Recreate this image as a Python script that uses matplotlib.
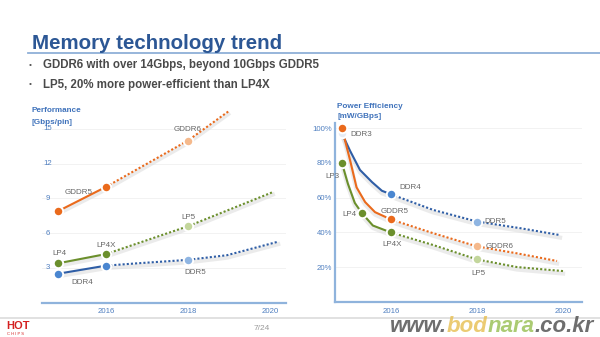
import matplotlib

matplotlib.use("Agg")
import matplotlib.pyplot as plt
from matplotlib.text import Annotation
from matplotlib.transforms import Affine2D, blended_transform_factory

plt.rcParams["font.family"] = ["Liberation Sans", "DejaVu Sans"]

W, H = 600, 337

# --- performance (Gbps/pin) ---------------------------------------------
perf_years = [2014.83, 2016.0]
perf_gddr = [7.9, 10.0]
perf_lp = [3.4, 4.2]
perf_ddr = [2.5, 3.2]

perf_next_year = 2018.0
perf_gddr6, perf_lp5, perf_ddr5 = 14.0, 6.6, 3.7

# projected trend (dotted)
perf_gddr_trend_x = [2016.0, 2018.0, 2018.98]
perf_gddr_trend_y = [10.0, 14.0, 16.5]
perf_lp_trend_x = [2016.0, 2017.0, 2018.0, 2020.07]
perf_lp_trend_y = [4.2, 5.4, 6.6, 9.55]
perf_ddr_trend_x = [2016.0, 2016.76, 2018.0, 2018.95, 2020.2]
perf_ddr_trend_y = [3.2, 3.4, 3.7, 4.1, 5.27]

perf_ticks = [3, 6, 9, 12, 15]

# --- power efficiency (mW/GBps, relative) --------------------------------
eff_ddr_x = [2014.86, 2015.05, 2015.28, 2015.56, 2015.79, 2016.0]
eff_ddr_y = [97, 87, 76, 69, 64, 62]
eff_gddr_x = [2014.86, 2015.05, 2015.2, 2015.4, 2015.63, 2016.0]
eff_gddr_y = [100, 81.6, 66, 57.5, 51.7, 47.5]
eff_lp_x = [2014.86, 2015.0, 2015.16, 2015.33, 2015.58, 2016.0]
eff_lp_y = [80, 68, 57, 51, 44, 40]

eff_ddr_trend_x = [2016.0, 2016.98, 2018.0, 2019.0, 2019.93]
eff_ddr_trend_y = [62, 53, 46.3, 42.5, 38.5]
eff_gddr_trend_x = [2016.0, 2016.98, 2018.0, 2018.93, 2019.86]
eff_gddr_trend_y = [47.5, 39.6, 32, 28, 23.6]
eff_lp_trend_x = [2016.0, 2016.98, 2018.0, 2018.93, 2020.0]
eff_lp_trend_y = [40, 32.8, 24.5, 20.1, 17.8]

eff_ticks = [20, 40, 60, 80, 100]
year_ticks = [2016, 2018, 2020]

ORANGE, GREEN, BLUE = "#ea6a1c", "#6b8f2c", "#2f5ea6"
ORANGE_L, GREEN_L, BLUE_L = "#f5b98c", "#c3d69c", "#8fb5e2"
DDR4_BLUE = "#4a86d0"
AXIS = "#8fb3dc"
TICK = "#4f7fc0"
LABEL = "#666666"


def px_axes(fig, x0, x1, y_bottom, y_top):
    """Axes placed by pixel edges (y measured from the top)."""
    return fig.add_axes([x0 / W, (H - y_bottom) / H, (x1 - x0) / W, (y_bottom - y_top) / H])


def dot(ax, x, y, color, size=6.8):
    ax.plot([x], [y], "o", color=color, markersize=size, markeredgecolor="white",
            markeredgewidth=1.4, zorder=6)


def tag(ax, text, xy, off, ha="center"):
    ax.annotate(text, xy=xy, xytext=off, textcoords="offset pixels", ha=ha, va="center",
                fontsize=5.8, color=LABEL, zorder=7)


def line(ax, xs, ys, color, dotted=False):
    # soft grey shadow under each line
    ax.plot(xs, ys, color="#d8d8d8", lw=3.0, alpha=0.5, zorder=2,
            transform=ax.transData + Affine2D().translate(0, -2.5))
    ax.plot(xs, ys, color=color, lw=1.5, ls=(0, (1, 1)) if dotted else "-",
            solid_capstyle="round", zorder=4)


def style_axes(ax):
    for s in ("top", "right"):
        ax.spines[s].set_visible(False)
    for s in ("left", "bottom"):
        ax.spines[s].set_color(AXIS)
        ax.spines[s].set_linewidth(1.6)
    ax.set_xticks(year_ticks)
    ax.set_xticklabels([str(y) for y in year_ticks])
    ax.tick_params(axis="x", length=0, pad=4, labelsize=5.6, labelcolor=TICK)
    ax.patch.set_alpha(0)


fig = plt.figure(figsize=(W / 100, H / 100), dpi=100)
fig.patch.set_facecolor("white")

# header
fig.text(32 / W, 1 - 49 / H, "Memory technology trend", fontsize=14.8, fontweight="bold",
         color="#2c5795", va="baseline", ha="left")
fig.add_artist(plt.Line2D([28 / W, 1.0], [1 - 53 / H, 1 - 53 / H], color="#8fb0d8", lw=1.3))
bullets = ["GDDR6 with over 14Gbps, beyond 10Gbps GDDR5",
           "LP5, 20% more power-efficient than LP4X"]
for i, b in enumerate(bullets):
    yy = 1 - (65 + 20 * i) / H
    fig.text(29 / W, yy, "•", fontsize=6, color="#555555", va="center")
    fig.text(43 / W, yy, b, fontsize=8.3, fontweight="bold", color="#4a4a4a", va="center")

# left: performance
ax1 = px_axes(fig, 42, 286, 302.7, 105.8)
ax1.set_xlim(2014.44, 2020.39)
ax1.set_ylim(0, 17)
style_axes(ax1)
ax1.spines["left"].set_visible(False)
ax1.set_yticks([])
tr = blended_transform_factory(ax1.transAxes, ax1.transData)
for t in perf_ticks:
    ax1.axhline(t, color="#f0f0f0", lw=0.6, zorder=0)
    ax1.text(0.022, t, str(t), transform=tr, fontsize=5.6, color=TICK, ha="center", va="center")
fig.text(32 / W, 1 - 111 / H, "Performance", fontsize=5.9, fontweight="bold", color="#3f72bb",
         va="center")
fig.text(32 / W, 1 - 122 / H, "[Gbps/pin]", fontsize=5.9, fontweight="bold", color="#3f72bb",
         va="center")

line(ax1, perf_gddr_trend_x, perf_gddr_trend_y, ORANGE, dotted=True)
line(ax1, perf_lp_trend_x, perf_lp_trend_y, GREEN, dotted=True)
line(ax1, perf_ddr_trend_x, perf_ddr_trend_y, BLUE, dotted=True)
line(ax1, perf_years, perf_gddr, ORANGE)
line(ax1, perf_years, perf_lp, GREEN)
line(ax1, perf_years, perf_ddr, BLUE)
for x, y in zip(perf_years, perf_gddr):
    dot(ax1, x, y, ORANGE)
for x, y in zip(perf_years, perf_lp):
    dot(ax1, x, y, GREEN)
for x, y in zip(perf_years, perf_ddr):
    dot(ax1, x, y, DDR4_BLUE)
dot(ax1, perf_next_year, perf_gddr6, ORANGE_L)
dot(ax1, perf_next_year, perf_lp5, GREEN_L)
dot(ax1, perf_next_year, perf_ddr5, BLUE_L)
tag(ax1, "GDDR6", (perf_next_year, perf_gddr6), (0, 11))
tag(ax1, "GDDR5", (perf_years[1], perf_gddr[1]), (-27, -6))
tag(ax1, "LP5", (perf_next_year, perf_lp5), (0, 9))
tag(ax1, "LP4", (perf_years[0], perf_lp[0]), (1, 10))
tag(ax1, "LP4X", (perf_years[1], perf_lp[1]), (0, 9))
tag(ax1, "DDR5", (perf_next_year, perf_ddr5), (7, -13))
tag(ax1, "DDR4", (perf_years[0], perf_ddr[0]), (24, -9))

# right: power efficiency
ax2 = px_axes(fig, 335, 582, 302, 123)
ax2.set_xlim(2014.70, 2020.44)
ax2.set_ylim(0, 103)
style_axes(ax2)
ax2.set_yticks(eff_ticks)
ax2.set_yticklabels([f"{t}%" for t in eff_ticks])
ax2.tick_params(axis="y", length=0, pad=2, labelsize=5.6, labelcolor=TICK)
for t in eff_ticks:
    ax2.axhline(t, color="#f0f0f0", lw=0.6, zorder=0)
fig.text(337 / W, 1 - 107 / H, "Power Efficiency", fontsize=5.9, fontweight="bold",
         color="#3f72bb", va="center")
fig.text(337 / W, 1 - 117 / H, "[mW/GBps]", fontsize=5.9, fontweight="bold", color="#3f72bb",
         va="center")

line(ax2, eff_ddr_trend_x, eff_ddr_trend_y, BLUE, dotted=True)
line(ax2, eff_gddr_trend_x, eff_gddr_trend_y, ORANGE, dotted=True)
line(ax2, eff_lp_trend_x, eff_lp_trend_y, GREEN, dotted=True)
line(ax2, eff_ddr_x, eff_ddr_y, BLUE)
line(ax2, eff_gddr_x, eff_gddr_y, ORANGE)
line(ax2, eff_lp_x, eff_lp_y, GREEN)
dot(ax2, eff_ddr_x[0], eff_ddr_y[0], "#e6ecf4")
dot(ax2, eff_gddr_x[0], eff_gddr_y[0], ORANGE)
dot(ax2, eff_lp_x[0], eff_lp_y[0], GREEN)
dot(ax2, eff_lp_x[3], eff_lp_y[3], GREEN)
dot(ax2, eff_ddr_x[-1], eff_ddr_y[-1], DDR4_BLUE)
dot(ax2, eff_gddr_x[-1], eff_gddr_y[-1], ORANGE)
dot(ax2, eff_lp_x[-1], eff_lp_y[-1], GREEN)
dot(ax2, eff_ddr_trend_x[2], eff_ddr_trend_y[2], BLUE_L)
dot(ax2, eff_gddr_trend_x[2], eff_gddr_trend_y[2], ORANGE_L)
dot(ax2, eff_lp_trend_x[2], eff_lp_trend_y[2], GREEN_L)
tag(ax2, "DDR3", (eff_ddr_x[0], eff_ddr_y[0]), (8, -1), ha="left")
tag(ax2, "LP3", (eff_lp_x[0], eff_lp_y[0]), (-9, -14))
tag(ax2, "DDR4", (eff_ddr_x[-1], eff_ddr_y[-1]), (8, 7), ha="left")
tag(ax2, "LP4", (eff_lp_x[3], eff_lp_y[3]), (-6, -1), ha="right")
tag(ax2, "GDDR5", (eff_gddr_x[-1], eff_gddr_y[-1]), (4, 8))
tag(ax2, "LP4X", (eff_lp_x[-1], eff_lp_y[-1]), (1, -12))
tag(ax2, "DDR5", (eff_ddr_trend_x[2], eff_ddr_trend_y[2]), (7, 0), ha="left")
tag(ax2, "GDDR6", (eff_gddr_trend_x[2], eff_gddr_trend_y[2]), (9, 0), ha="left")
tag(ax2, "LP5", (eff_lp_trend_x[2], eff_lp_trend_y[2]), (1, -14))

# footer
fig.add_artist(plt.Line2D([0, 1], [1 - 318 / H, 1 - 318 / H], color="#dcdcdc", lw=1.2))
fig.text(6 / W, 1 - 326 / H, "HOT", fontsize=8, fontweight="bold", color="#d42020", va="center")
fig.text(7 / W, 1 - 334 / H, "C H I P S", fontsize=3, color="#d42020", va="center")
fig.text(262 / W, 1 - 328 / H, "7/24", fontsize=6, color="#9a9a9a", ha="center", va="center")

# site mark, pieces chained end to end
wm_font = dict(fontsize=16, fontweight="bold", style="italic", alpha=0.85)
piece = fig.text(390 / W, 1 - 327 / H, "www.", color="#555555", va="center", ha="left", **wm_font)
for s, c in [("bod", "#e8c25a"), ("nara", "#9cc25a"), (".co.kr", "#555555")]:
    piece = fig.add_artist(Annotation(s, xy=(1, 0), xycoords=piece, xytext=(0, 0),
                                      textcoords="offset points", ha="left", va="bottom",
                                      color=c, **wm_font))

fig.savefig("out.png", dpi=100)
